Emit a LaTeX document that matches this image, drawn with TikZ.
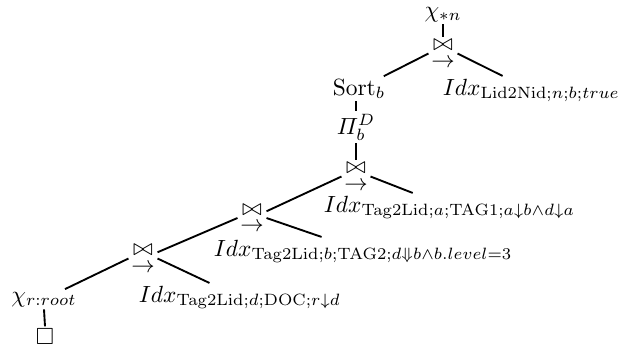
\documentclass[tikz,border=0pt]{standalone}
\usepackage{amsmath,amssymb}
\begin{document}
\begin{tikzpicture}[x=0.427pt,y=-0.427pt,
  lbl/.style={inner sep=1pt},
  joinop/.style={inner sep=1pt, align=center},
  edge/.style={line width=0.8pt}]
\useasboundingbox (0,0) rectangle (625,347);
% operator nodes
\node[lbl, anchor=base] (chi) at (443,17) {$\chi_{*n}$};
\node[joinop] (j1) at (443,53.5) {$\bowtie$\\[-5pt]$\rightarrow$};
\node[lbl, anchor=base] (sort) at (359,95) {$\mathrm{Sort}_b$};
\node[lbl, anchor=base west] (idx1) at (440,95) {$Idx_{\mathrm{Lid2Nid};n;b;true}$};
\node[lbl, anchor=base] (pi) at (356,134) {$\varPi_b^D$};
\node[joinop] (j2) at (356,176.5) {$\bowtie$\\[-5pt]$\rightarrow$};
\node[lbl, anchor=base west] (idx2) at (321,212) {$Idx_{\mathrm{Tag2Lid};a;\mathrm{TAG1};a\downarrow b\wedge d\downarrow a}$};
\node[joinop] (j3) at (252,218) {$\bowtie$\\[-5pt]$\rightarrow$};
\node[lbl, anchor=base west] (idx3) at (211,256) {$Idx_{\mathrm{Tag2Lid};b;\mathrm{TAG2};d\Downarrow b\wedge b.level=3}$};
\node[joinop] (j4) at (143,258.5) {$\bowtie$\\[-5pt]$\rightarrow$};
\node[lbl, anchor=base] (chir) at (44,302) {$\chi_{r:root}$};
\node[lbl, anchor=base west] (idx4) at (136,302) {$Idx_{\mathrm{Tag2Lid};d;\mathrm{DOC};r\downarrow d}$};
\node[lbl] (box) at (45,337) {$\square$};
% tree edges
\draw[edge] (chi.south) -- (j1.north);
\draw[edge] (j1.west) -- (sort);
\draw[edge] (j1.east) -- (idx1);
\draw[edge] (sort.south -| pi.north) -- (pi.north);
\draw[edge] (pi.south) -- (j2.north);
\draw[edge] (j2.west) -- (j3);
\draw[edge] (j2.east) -- (idx2);
\draw[edge] (j3.west) -- (j4);
\draw[edge] (j3.east) -- (idx3);
\draw[edge] (j4.west) -- (chir);
\draw[edge] (j4.east) -- (idx4);
\draw[edge] (chir.south) -- (box.north);
\end{tikzpicture}
\end{document}
